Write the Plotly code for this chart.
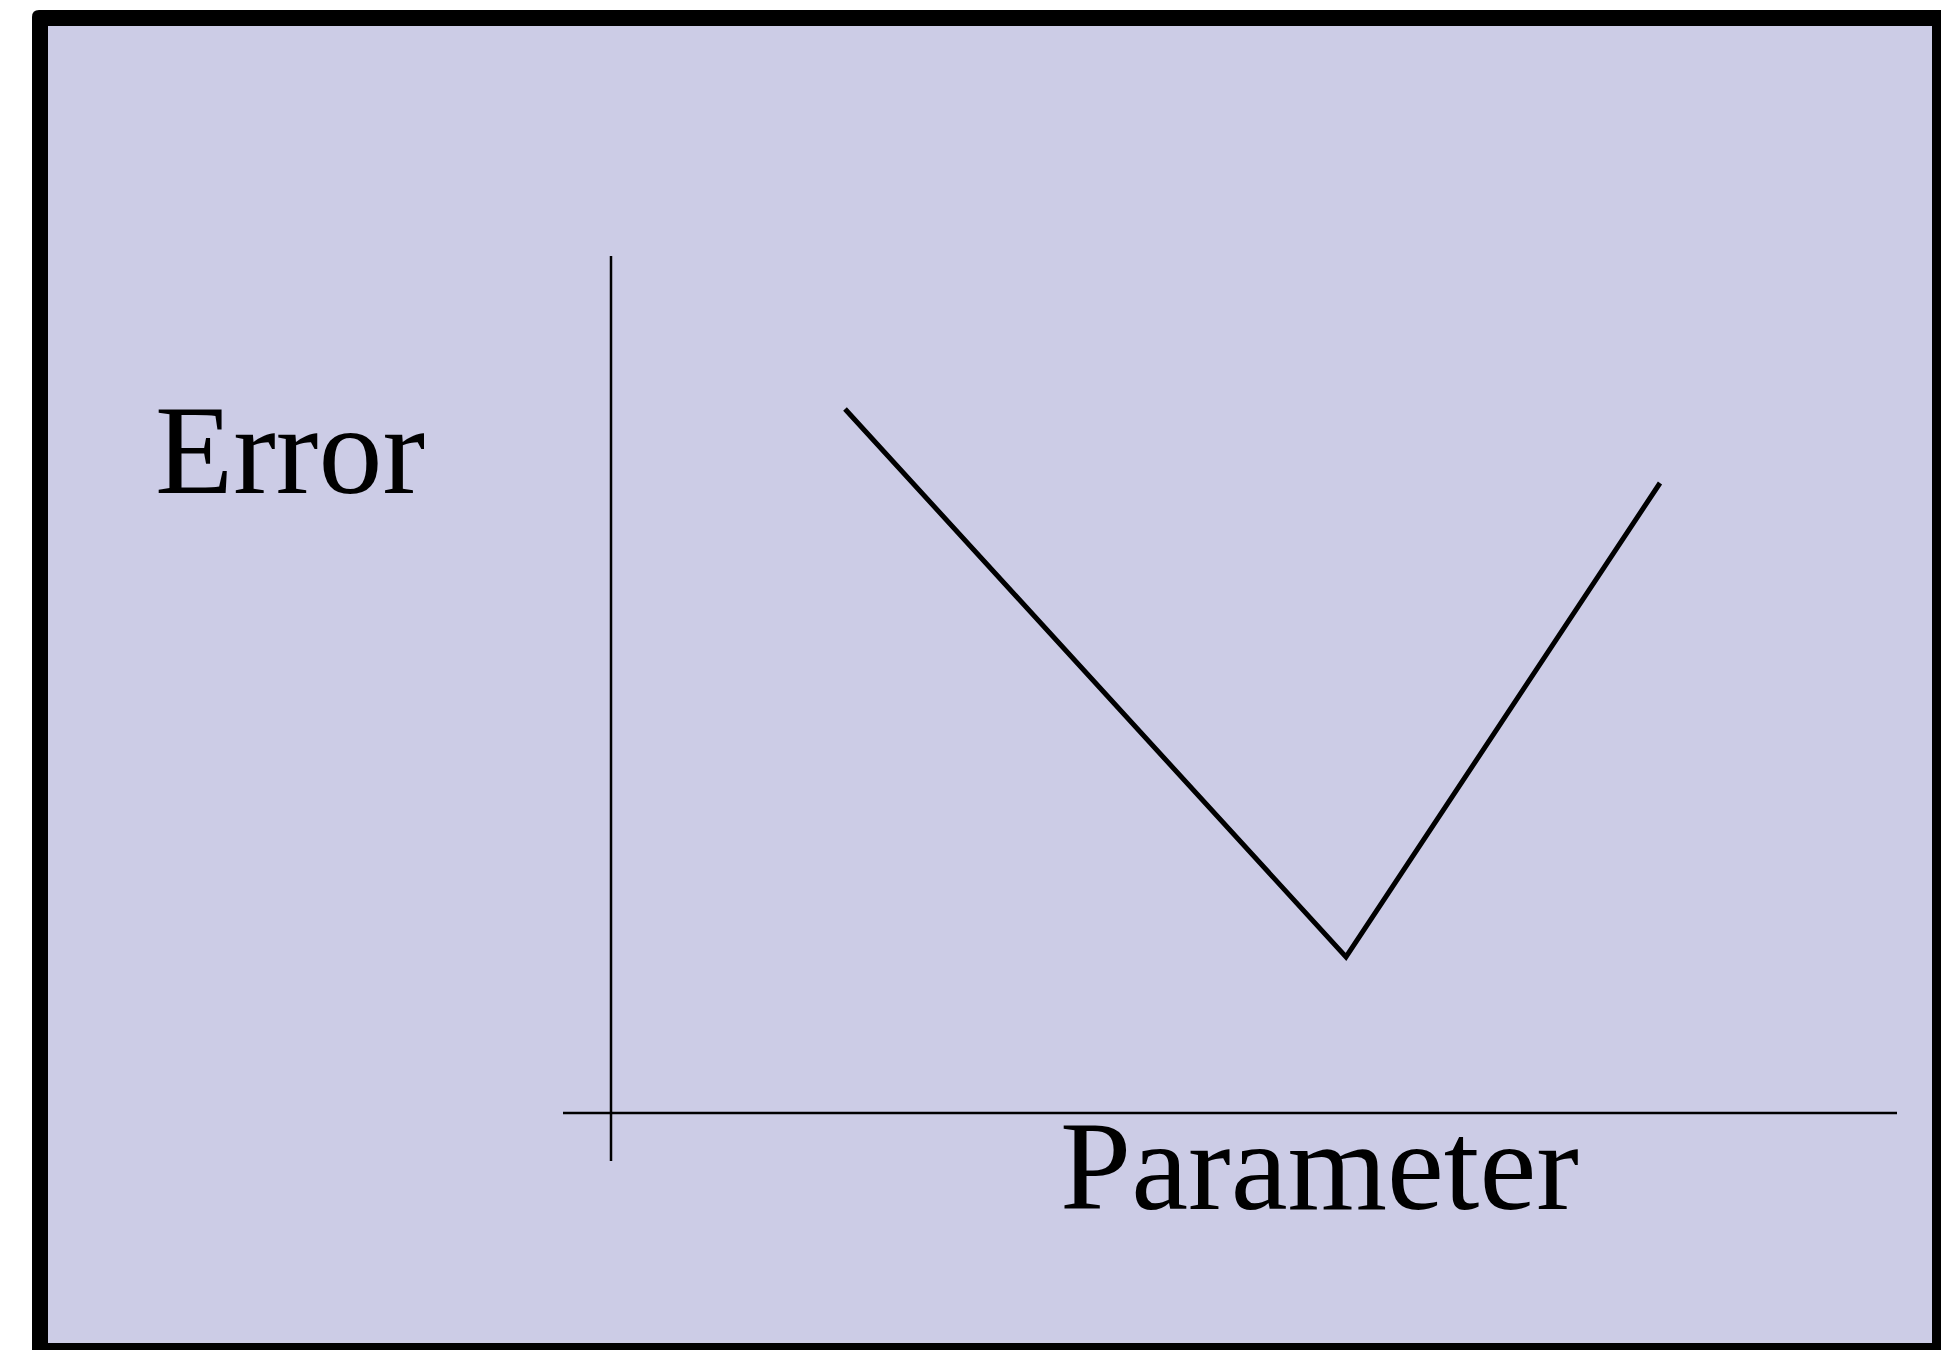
import plotly.graph_objects as go

# ---- data (arbitrary units, origin at the axes crossing) ----
parameter = [2.34, 7.35, 10.49]
error = [7.04, 1.56, 6.30]
x_label = "Parameter"
y_label = "Error"

# ---- layout constants ----
W, H = 1941, 1350
OX, OY = 611, 1113      # pixel position of the axes origin
UNIT = 100.0            # pixels per data unit
BG = "rgb(204,204,230)"
FONT = "Liberation Serif, Times New Roman, serif"

x_range = [-OX / UNIT, (W - OX) / UNIT]
y_range = [-(H - OY) / UNIT, OY / UNIT]

def px(v):
    return v / W

def py(v):
    return 1 - v / H

fig = go.Figure()
fig.add_trace(go.Scatter(
    x=parameter, y=error, mode="lines",
    line=dict(color="black", width=5),
    hoverinfo="skip", showlegend=False,
))

# frame: outer rounded black rect + inner lavender rect
r = 7
x0, y0, x1, y1 = 32, 10, 1960, 1370
outer = (f"M {px(x0)},{py(y0 + r)} Q {px(x0)},{py(y0)} {px(x0 + r)},{py(y0)} "
         f"L {px(x1)},{py(y0)} L {px(x1)},{py(y1)} L {px(x0)},{py(y1)} Z")
shapes = [
    dict(type="path", xref="paper", yref="paper", path=outer,
         fillcolor="black", line=dict(width=0), layer="below"),
    dict(type="rect", xref="paper", yref="paper",
         x0=px(48), x1=px(1932), y0=py(26), y1=py(1343),
         fillcolor=BG, line=dict(width=0), layer="below"),
    # axes
    dict(type="line", xref="x", yref="y", x0=-0.48, x1=12.86, y0=0, y1=0,
         line=dict(color="black", width=2.5), layer="below"),
    dict(type="line", xref="x", yref="y", x0=0, x1=0, y0=-0.48, y1=8.57,
         line=dict(color="black", width=2.5), layer="below"),
]

annotations = [
    dict(text=y_label, xref="paper", yref="paper", x=px(153), y=py(377),
         xanchor="left", yanchor="top", showarrow=False,
         font=dict(family=FONT, size=128, color="black")),
    dict(text=x_label, xref="paper", yref="paper", x=px(1058), y=py(1093),
         xanchor="left", yanchor="top", showarrow=False,
         font=dict(family=FONT, size=128, color="black")),
]

fig.update_layout(
    width=W, height=H,
    margin=dict(l=0, r=0, t=0, b=0, pad=0),
    paper_bgcolor="white", plot_bgcolor="rgba(0,0,0,0)",
    xaxis=dict(range=x_range, visible=False, domain=[0, 1], fixedrange=True),
    yaxis=dict(range=y_range, visible=False, domain=[0, 1], fixedrange=True),
    shapes=shapes, annotations=annotations, showlegend=False,
)

fig.write_html(
    "out.html",
    config=dict(displayModeBar=False),
    post_script="document.body.style.margin='0';document.body.style.overflow='hidden';",
)
